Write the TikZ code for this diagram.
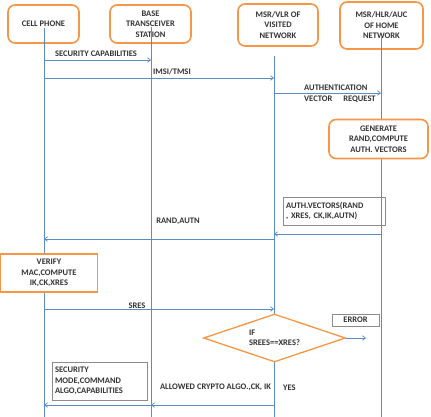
\documentclass[tikz,border=0pt]{standalone}
\usepackage{fontspec}
\setmainfont{Carlito}
\usetikzlibrary{arrows.meta,shapes.geometric}

\definecolor{boxorange}{HTML}{F79646}
\definecolor{lineblue}{HTML}{5B8BC7}
\definecolor{boxgray}{HTML}{8C8C8C}
\definecolor{inkgray}{HTML}{333333}

\tikzset{
    entity/.style={draw=boxorange, line width=1.6pt, rounded corners=7pt, fill=white,
        align=center, inner sep=0pt, text=inkgray},
    action/.style={draw=boxorange, line width=1.6pt, fill=white, align=center, inner sep=0pt, text=inkgray},
    note/.style={draw=boxgray, line width=0.7pt, align=left, inner sep=0pt, text=inkgray},
    decision/.style={diamond, draw=boxorange, line width=1.3pt, fill=white, align=left, aspect=3,
        inner sep=0pt, minimum width=142pt, minimum height=48pt, text=inkgray},
    life/.style={draw=lineblue, line width=0.7pt},
    msg/.style={draw=lineblue, line width=0.7pt, -{Straight Barb[length=3pt,width=4.5pt]}},
    lbl/.style={inner sep=0pt, text=inkgray}
}

\begin{document}
\begin{tikzpicture}[x=1pt, y=-1pt, font=\fontsize{8.5}{10.5}\selectfont\bfseries]
    \useasboundingbox[fill=white] (0,0) rectangle (431,417);

    % Teilnehmer
    \node[entity, minimum width=71pt, minimum height=38pt] (cell) at (43.5,24) {CELL PHONE};
    \node[entity, minimum width=81pt, minimum height=38pt] (bts) at (150.5,24) {BASE\\TRANSCEIVER\\STATION};
    \node[entity, minimum width=80pt, minimum height=42pt] (vlr) at (278,25) {MSR/VLR OF\\VISITED\\NETWORK};
    \node[entity, minimum width=83pt, minimum height=47pt] (hlr) at (381.5,25.5) {MSR/HLR/AUC\\OF HOME\\NETWORK};

    % Lebenslinien
    \coordinate (cellT) at (44,28);  \coordinate (cellB) at (44,417);
    \coordinate (btsT) at (151,27);  \coordinate (btsB) at (151,417);
    \coordinate (vlrT) at (274,56);  \coordinate (vlrB) at (274,417);
    \coordinate (hlrT) at (381,37);  \coordinate (hlrB) at (381,417);
    \draw[life] (cellT) -- (cellB);
    \draw[life] (btsT) -- (btsB);
    \draw[life] (vlrT) -- (vlrB);
    \draw[life] (hlrT) -- (hlrB);

    % Nachrichten
    \draw[msg] (cellB |- 0,60) -- (btsB |- 0,60);
        \node[lbl] (seccap) at (96,54) {SECURITY CAPABILITIES};
    \draw[msg] (cellB |- 0,78) -- (vlrB |- 0,78);
        \node[lbl, anchor=west] (imsi) at (153,72) {IMSI/TMSI};
    \draw[msg] (vlrB |- 0,93) -- (hlrB |- 0,93);
        \node[lbl, anchor=west, align=left] (avreq) at (304,93.5) {AUTHENTICATION\\VECTOR\hspace{11pt}REQUEST};

    \node[entity, minimum width=99pt, minimum height=39pt] (gen) at (378.5,139) {GENERATE\\RAND,COMPUTE\\AUTH. VECTORS};
    \node[note, minimum width=102pt, minimum height=28pt, text width=96pt] (authvec) at (334,211) {AUTH.VECTORS(RAND\\, XRES, CK,IK,AUTN)};
    \draw[msg] (hlrB |- 0,234) -- (vlrB |- 0,234);

    \draw[msg] (vlrB |- 0,239) -- (cellB |- 0,239);
        \node[lbl] (randautn) at (178,221) {RAND,AUTN};

    \node[action, minimum width=97pt, minimum height=38pt] (verify) at (49,273) {VERIFY\\MAC,COMPUTE\\IK,CK,XRES};

    \draw[msg] (cellB |- 0,309) -- (vlrB |- 0,309);
        \node[lbl] (sres) at (137,306) {SRES};

    % Vergleich
    \node[decision] (check) at (274.5,338) {IF\\SREES==XRES?};
    \node[note, minimum width=47pt, minimum height=12pt, align=center] (error) at (355.5,320) {ERROR};
    \coordinate (errEnd) at (366,338);
    \draw[msg] (check.east) -- (errEnd);
        \node[lbl, anchor=west] (yes) at (283,388) {YES};

    \node[lbl] (allowed) at (215.5,387) {ALLOWED CRYPTO ALGO.,CK, IK};
    \node[note, minimum width=95pt, minimum height=38pt, text width=89pt] (secmode) at (99.5,381) {SECURITY\\MODE,COMMAND\\ALGO,CAPABILITIES};
    \draw[msg] (vlrB |- 0,405) -- (btsB |- 0,405);
    \draw[msg] (btsB |- 0,405) -- (cellB |- 0,405);
\end{tikzpicture}
\end{document}
